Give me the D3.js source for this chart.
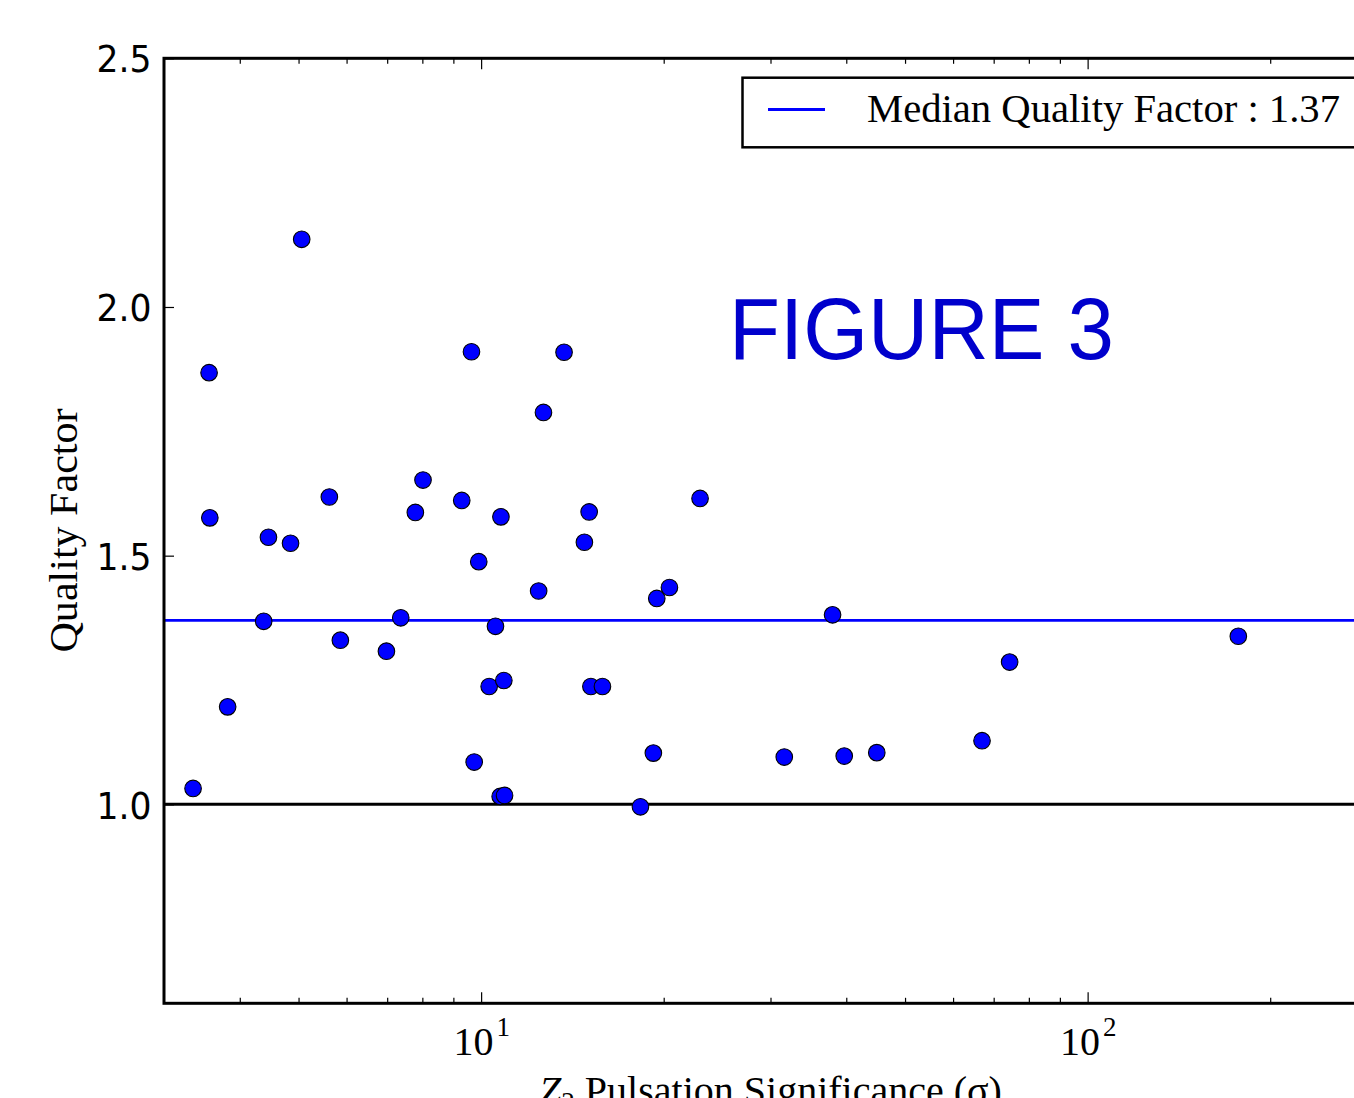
<!DOCTYPE html>
<html>
<head>
<meta charset="utf-8">
<script src="https://cdn.jsdelivr.net/npm/d3@7"></script>
<style>
  html, body { margin: 0; padding: 0; background: #fff; overflow: hidden; }
  svg { display: block; }
</style>
</head>
<body>
<svg id="chart" width="1354" height="1098"></svg>
<script>
// ---- Data ----
const sigma = [3.35, 3.56, 3.57, 3.82, 4.38, 4.46, 4.85, 5.06, 5.62, 5.86, 6.98, 7.37, 7.79, 8.02, 9.29, 9.64, 9.74, 9.91, 10.31, 10.56, 10.75, 10.93, 10.78, 10.90, 12.44, 12.67, 13.70, 14.80, 15.07, 15.17, 15.85, 18.31, 19.23, 19.48, 20.44, 22.96, 31.61, 37.97, 39.69, 44.91, 66.97, 74.37, 177.2];
const quality = [1.032, 1.868, 1.576, 1.196, 1.368, 1.537, 1.525, 2.136, 1.618, 1.330, 1.308, 1.375, 1.587, 1.652, 1.611, 1.910, 1.085, 1.488, 1.237, 1.358, 1.016, 1.018, 1.578, 1.249, 1.429, 1.788, 1.909, 1.527, 1.588, 1.237, 1.237, 0.995, 1.103, 1.414, 1.436, 1.615, 1.095, 1.381, 1.097, 1.104, 1.128, 1.286, 1.338];
const medianQF = 1.37;
const unityQF = 1.0;
const xDomain = [3, 300];
const yDomain = [0.6, 2.5];
const yTicks = [1.0, 1.5, 2.0, 2.5];
const xMajorTicks = [10, 100];
const xMinorTicks = [4, 5, 6, 7, 8, 9, 20, 30, 40, 50, 60, 70, 80, 90, 200, 300];
const legendLabel = "Median Quality Factor : 1.37";
const xLabel = "Pulsation Significance (σ)";
const yLabel = "Quality Factor";
const stamp = "FIGURE 3";

// ---- Layout ----
const L = 164, R = 1377, T = 58.3, B = 1003.3;
const svg = d3.select("#chart");
const x = d3.scaleLog().domain(xDomain).range([L, R]);
const y = d3.scaleLinear().domain(yDomain).range([B, T]);

const serif = "'Liberation Serif', 'DejaVu Serif', serif";
const sans = "'DejaVu Sans', sans-serif";

// horizontal reference lines
svg.append("line")
  .attr("x1", L).attr("x2", R).attr("y1", y(unityQF)).attr("y2", y(unityQF))
  .attr("stroke", "#000").attr("stroke-width", 3);
svg.append("line")
  .attr("x1", L).attr("x2", R).attr("y1", y(medianQF)).attr("y2", y(medianQF))
  .attr("stroke", "#0000ff").attr("stroke-width", 2.6);

// points
svg.append("g").selectAll("circle")
  .data(sigma.map((s, i) => ({ s, q: quality[i] })))
  .join("circle")
  .attr("cx", d => x(d.s))
  .attr("cy", d => y(d.q))
  .attr("r", 8.3)
  .attr("fill", "#0000ff")
  .attr("stroke", "#000")
  .attr("stroke-width", 1.1);

// axes: minor ticks
function styleAxis(g) {
  g.select(".domain").remove();
  g.selectAll(".tick line").attr("stroke", "#000").attr("stroke-width", 1.2);
}
svg.append("g").attr("transform", `translate(0,${B})`)
  .call(d3.axisBottom(x).tickValues(xMinorTicks).tickSize(-5.5).tickFormat(""))
  .call(styleAxis);
svg.append("g").attr("transform", `translate(0,${T})`)
  .call(d3.axisTop(x).tickValues(xMinorTicks).tickSize(-5.5).tickFormat(""))
  .call(styleAxis);

// major x ticks
const xb = svg.append("g").attr("transform", `translate(0,${B})`)
  .call(d3.axisBottom(x).tickValues(xMajorTicks).tickSize(-11).tickPadding(40).tickFormat(""))
  .call(styleAxis);
xb.selectAll(".tick text").each(function(d) {
  const t = d3.select(this)
    .attr("y", 52).attr("dy", 0)
    .attr("font-family", serif).attr("font-size", 40).attr("fill", "#000")
    .attr("text-anchor", "middle");
  t.append("tspan").text("10");
  t.append("tspan").attr("dx", 3).attr("dy", -19).attr("font-size", 27).text(Math.round(Math.log10(d)));
});
svg.append("g").attr("transform", `translate(0,${T})`)
  .call(d3.axisTop(x).tickValues(xMajorTicks).tickSize(-11).tickFormat(""))
  .call(styleAxis);

// y axis
const yl = svg.append("g").attr("transform", `translate(${L},0)`)
  .call(d3.axisLeft(y).tickValues(yTicks).tickSize(-10).tickPadding(12.5).tickFormat(d3.format(".1f")))
  .call(styleAxis);
yl.selectAll(".tick text")
  .attr("font-family", sans).attr("font-size", 38).attr("fill", "#000")
  .attr("dy", "0.36em")
  .attr("textLength", 55).attr("lengthAdjust", "spacingAndGlyphs");
svg.append("g").attr("transform", `translate(${R},0)`)
  .call(d3.axisRight(y).tickValues(yTicks).tickSize(-10).tickFormat(""))
  .call(styleAxis);

// frame
svg.append("rect")
  .attr("x", L).attr("y", T).attr("width", R - L).attr("height", B - T)
  .attr("fill", "none").attr("stroke", "#000").attr("stroke-width", 3);

// legend
const lg = svg.append("g");
lg.append("rect")
  .attr("x", 742.5).attr("y", 77.7).attr("width", 640).attr("height", 69.6)
  .attr("fill", "#fff").attr("stroke", "#000").attr("stroke-width", 2.5);
lg.append("line")
  .attr("x1", 768).attr("x2", 825).attr("y1", 109.5).attr("y2", 109.5)
  .attr("stroke", "#0000ff").attr("stroke-width", 3);
lg.append("text")
  .attr("x", 867).attr("y", 121.7)
  .attr("font-family", serif).attr("font-size", 40).attr("fill", "#000")
  .attr("textLength", 473).attr("lengthAdjust", "spacingAndGlyphs")
  .text(legendLabel);

// axis labels
const xl = svg.append("text")
  .attr("x", (L + R) / 2).attr("y", 1104)
  .attr("text-anchor", "middle")
  .attr("font-family", serif).attr("font-size", 40).attr("fill", "#000");
xl.append("tspan").attr("font-style", "italic").text("Z");
xl.append("tspan").attr("font-size", 27).attr("dy", 7).text("2");
xl.append("tspan").attr("dy", -7).text(" " + xLabel);

svg.append("text")
  .attr("transform", `translate(77,530.5) rotate(-90)`)
  .attr("text-anchor", "middle")
  .attr("font-family", serif).attr("font-size", 40).attr("fill", "#000")
  .attr("textLength", 244).attr("lengthAdjust", "spacingAndGlyphs")
  .text(yLabel);

// stamp
svg.append("text")
  .attr("x", 729).attr("y", 359.3)
  .attr("font-family", "'Liberation Sans', Arial, sans-serif").attr("font-size", 88)
  .attr("fill", "#0000cc")
  .attr("textLength", 385).attr("lengthAdjust", "spacingAndGlyphs")
  .text(stamp);
</script>
</body>
</html>
